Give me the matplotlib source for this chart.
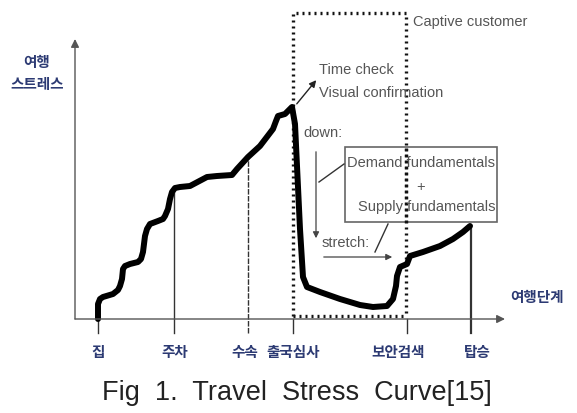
import matplotlib
matplotlib.use("Agg")
import matplotlib.pyplot as plt
import numpy as np

plt.rcParams['font.family'] = ['Liberation Sans', 'DejaVu Sans']

# travel progress (x) and stress (y)
progress = [23, 23, 25, 28, 38, 43, 45, 47, 48, 50, 55, 63, 66, 68, 69, 70, 72, 75,
            83, 88, 90, 93, 95, 97, 100, 105, 115, 132, 142, 157, 162, 173, 185,
            198, 201, 203, 210, 217, 220, 222, 225, 228, 232, 245, 265, 285, 298,
            312, 318, 321, 322, 325, 332, 335, 348, 365, 378, 388, 395]
stress = [0, 15, 20, 22, 25, 29, 33, 40, 50, 53, 55, 57, 60, 67, 75, 83, 90, 95,
          98, 100, 103, 110, 120, 127, 131, 132, 133, 142, 143, 144, 150, 162, 173,
          190, 198, 203, 205, 212, 195, 153, 90, 42, 32, 27, 20, 14, 12, 13, 20, 33,
          43, 52, 55, 63, 67, 73, 80, 87, 93]

# travel stages
stages = ['집', '주차', '수속', '출국심사', '보안검색', '탑승']
stage_x = [23, 99, 173, 218, 332, 396]
stage_top = [0, 132, 162, 0, 0, 93]
label_x = [23, 100, 170, 218, 323, 402]

caption = 'Fig  1.  Travel  Stress  Curve[15]'

ko = ['Noto Sans CJK KR', 'DejaVu Sans']
navy = '#2c3a73'
gray = '#555555'

fig = plt.figure(figsize=(5.77, 4.14), dpi=100)
# axes box in pixels: x 75..502, y 42..320
ax = fig.add_axes([75 / 577, (414 - 320) / 414, 427 / 577, 278 / 414])
ax.set_xlim(0, 427)
ax.set_ylim(0, 278)
ax.axis('off')

# axes with arrows
ax.annotate('', xy=(430, 0), xytext=(0, 0),
            arrowprops=dict(arrowstyle='-|>', color='#555555', lw=1.0,
                            mutation_scale=12, shrinkA=0, shrinkB=0),
            annotation_clip=False)
ax.annotate('', xy=(0, 280), xytext=(0, 0),
            arrowprops=dict(arrowstyle='-|>', color='#555555', lw=1.0,
                            mutation_scale=12, shrinkA=0, shrinkB=0),
            annotation_clip=False)

# stage lines and labels
for i, (sx, top, lab) in enumerate(zip(stage_x, stage_top, stages)):
    lw = 1.6 if lab == '탑승' else 1.0
    ls = (0, (4, 1)) if lab == '수속' else '-'
    ax.plot([sx, sx], [-14, top], color='#333333', lw=lw, ls=ls, clip_on=False)
    ax.text(label_x[i], -32, lab, ha='center', va='center', fontsize=10.5,
            fontweight='bold', color=navy, family=ko, clip_on=False)

# captive customer dotted box
ax.plot([218, 218, 331, 331], [3, 306, 306, 3], color='#111111', lw=2.4,
        ls=(0, (0.6, 1.2)), clip_on=False)
ax.plot([218, 331], [3, 3], color='#111111', lw=2.4, ls=(0, (0.6, 1.2)), clip_on=False)
ax.text(338, 298, 'Captive customer', fontsize=10.5, color=gray, va='center')

# stress curve
ax.plot(progress, stress, color='black', lw=4.3, solid_joinstyle='round',
        solid_capstyle='round', clip_on=False)

# annotations
ax.annotate('', xy=(243, 241), xytext=(220, 213),
            arrowprops=dict(arrowstyle='-|>', color='#222222', lw=1.0, mutation_scale=10))
ax.text(244, 250, 'Time check', fontsize=10.5, color=gray, va='center')
ax.text(244, 227, 'Visual confirmation', fontsize=10.5, color=gray, va='center')

ax.text(228, 187, 'down:', fontsize=10.5, color=gray, va='center')
ax.annotate('', xy=(241, 78), xytext=(241, 170),
            arrowprops=dict(arrowstyle='-|>', color='#444444', lw=0.9, mutation_scale=9))
ax.text(247, 77, 'stretch:', fontsize=10.5, color=gray, va='center')
ax.annotate('', xy=(320, 62), xytext=(246, 62),
            arrowprops=dict(arrowstyle='-|>', color='#444444', lw=0.9, mutation_scale=9))

# fundamentals box
ax.add_patch(plt.Rectangle((270, 97), 152, 75, fill=True, facecolor='white',
                           edgecolor='#666666', lw=1.2, clip_on=False, zorder=1))
ax.plot([331, 331], [97, 172], color='#111111', lw=2.4, ls=(0, (0.6, 1.2)), zorder=2)
ax.text(346, 157, 'Demand fundamentals', fontsize=10.5, color=gray, ha='center', va='center', zorder=3)
ax.text(346, 133, '+', fontsize=10.5, color=gray, ha='center', va='center', zorder=3)
ax.text(421, 113, 'Supply fundamentals', fontsize=10.5, color=gray, ha='right', va='center', zorder=3)
ax.plot([269, 244], [155, 137], color='#333333', lw=1.0)
ax.plot([313, 300], [95, 67], color='#333333', lw=1.0)

# axis titles
fig.text(37 / 577, 1 - 62 / 414, '여행', ha='center', va='center', fontsize=10.5,
         fontweight='bold', color=navy, family=ko)
fig.text(37 / 577, 1 - 84 / 414, '스트레스', ha='center', va='center', fontsize=10.5,
         fontweight='bold', color=navy, family=ko)
fig.text(537 / 577, 1 - 297 / 414, '여행단계', ha='center', va='center', fontsize=10.5,
         fontweight='bold', color=navy, family=ko)

fig.text(297 / 577, 1 - 400 / 414, caption, ha='center', va='baseline',
         fontsize=19.5, color='#222222')

fig.savefig('out.png', dpi=100)
